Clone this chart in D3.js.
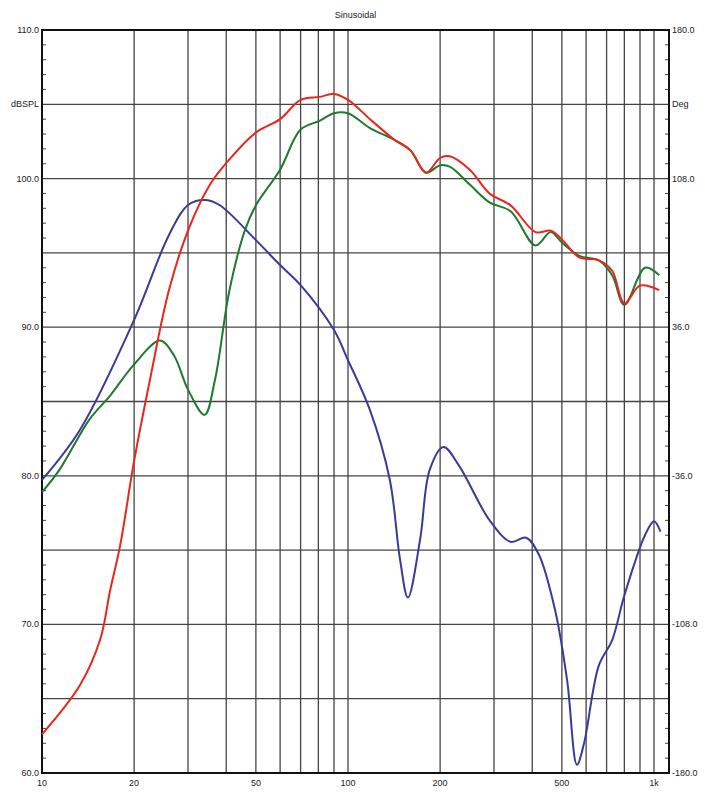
<!DOCTYPE html><html><head><script src="https://cdn.jsdelivr.net/npm/d3@7"></script>
<style>body{margin:0;background:#fff}text{font-family:"Liberation Sans",Arial,sans-serif;font-size:9px;fill:#222}</style></head><body><svg id="c" width="705" height="798"></svg><script>
const redF=[10,13.3,15.5,16.7,18,20,22.5,26,30,35.4,41,50,60,70,81,90,100,118,142,160,180,200,215,250,290,340,410,460,500,570,660,730,800,900,1040];
const redV=[62.6,65.9,69,72.3,75.3,81,86.4,92.5,96.5,99.6,101.3,103.1,104,105.3,105.5,105.7,105.3,104,102.6,101.9,100.4,101.4,101.5,100.6,99,98.2,96.4,96.5,95.9,94.7,94.5,93.8,91.6,92.8,92.5];
const grnF=[10,11.4,14.3,16.7,20,24.3,27,30,34,36.7,41,46,50,60,70,81,90,100,118,142,160,180,200,215,250,290,340,410,460,500,570,660,730,800,935,1040];
const grnV=[78.9,80.4,83.8,85.4,87.5,89.1,88.1,85.8,84.1,86.4,92.5,96.5,98.2,100.6,103.3,103.9,104.4,104.4,103.4,102.6,101.9,100.4,100.9,100.8,99.6,98.4,97.8,95.5,96.4,95.7,94.8,94.5,93.5,91.5,94,93.5];
const bluF=[10,13.3,20,26,30,34,38,50,60,70,90,100,118,137,148,157,172,185,205,230,290,340,382,420,475,520,560,590,660,730,800,935,1000,1050];
const bluV=[-38,-13.8,39.5,80.7,95.2,97.6,95.2,78.2,66.1,56.4,34.6,20,-4.2,-38,-76.8,-95,-67,-33,-22,-30.8,-57.5,-68,-66,-74,-101,-135,-176,-166,-128,-115.6,-94,-64.7,-58,-63];
const leftTicks=[110,100,90,80,70,60], rightTicks=[180,108,36,-36,-108,-180];
const xTicks=[10,20,50,100,200,500,1000], xLabels=["10","20","50","100","200","500","1k"];
const L=42,R=669,T=30,B=773;
const svg=d3.select("#c");
const x=d3.scaleLog().domain([10,10*Math.pow(10,(R-L)/306)]).range([L,R]);
const y=d3.scaleLinear().domain([60,110]).range([B,T]);
const y2=d3.scaleLinear().domain([-180,180]).range([B,T]);
const g=svg.append("g");
const vlines=[];for(let d=10;d<=1000;d*=10)for(let k=1;k<=9;k++){const v=d*k;if(v>10&&v<x.domain()[1])vlines.push(v);}
g.selectAll(".v").data(vlines).enter().append("line").attr("x1",d=>x(d)).attr("x2",d=>x(d)).attr("y1",T).attr("y2",B).attr("stroke","#444").attr("stroke-width",1.3);
g.selectAll(".h").data(d3.range(65,110,5)).enter().append("line").attr("x1",L).attr("x2",R).attr("y1",d=>y(d)).attr("y2",d=>y(d)).attr("stroke","#444").attr("stroke-width",1.3);
const minor=d3.range(61,110).filter(d=>d%5);
g.selectAll(".ml").data(minor).enter().append("line").attr("x1",L).attr("x2",L+4).attr("y1",d=>y(d)).attr("y2",d=>y(d)).attr("stroke","#444");
g.selectAll(".mr").data(minor).enter().append("line").attr("x1",R-4).attr("x2",R).attr("y1",d=>y(d)).attr("y2",d=>y(d)).attr("stroke","#444");
svg.append("rect").attr("x",L).attr("y",T).attr("width",R-L).attr("height",B-T).attr("fill","none").attr("stroke","#111").attr("stroke-width",2);
const ln=(ys)=>d3.line().x(d=>x(d[0])).y(d=>ys(d[1])).curve(d3.curveCatmullRom.alpha(0.5));
const z=(a,b)=>a.map((f,i)=>[f,b[i]]);
svg.append("path").attr("d",ln(y2)(z(bluF,bluV))).attr("fill","none").attr("stroke","#3a3a9a").attr("stroke-width",2);
svg.append("path").attr("d",ln(y)(z(grnF,grnV))).attr("fill","none").attr("stroke","#1e7a2e").attr("stroke-width",2);
svg.append("path").attr("d",ln(y)(z(redF,redV))).attr("fill","none").attr("stroke","#e8261e").attr("stroke-width",2);
svg.selectAll(".lt").data(leftTicks).enter().append("text").attr("x",L-3).attr("y",d=>y(d)+3).attr("text-anchor","end").text(d=>d.toFixed(1));
svg.selectAll(".rt").data(rightTicks).enter().append("text").attr("x",R+3).attr("y",d=>y2(d)+3).text(d=>d.toFixed(1));
svg.selectAll(".xt").data(xTicks).enter().append("text").attr("x",d=>x(d)).attr("y",B+13).attr("text-anchor","middle").text((d,i)=>xLabels[i]);
svg.append("text").attr("x",L-3).attr("y",y(105)+3).attr("text-anchor","end").text("dBSPL");
svg.append("text").attr("x",R+3).attr("y",y(105)+3).text("Deg");
svg.append("text").attr("x",(L+R)/2).attr("y",18).attr("text-anchor","middle").text("Sinusoidal");
</script></body></html>
